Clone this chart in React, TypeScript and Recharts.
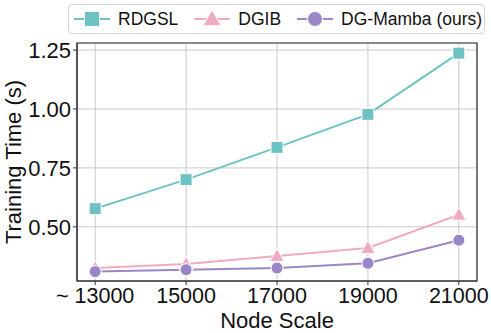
import React from "react";
import {
  LineChart,
  Line,
  XAxis,
  YAxis,
  CartesianGrid,
  ReferenceArea,
} from "recharts";

const nodeScales = [13000, 15000, 17000, 19000, 21000];
const rdgsl = [0.577, 0.7, 0.837, 0.977, 1.237];
const dgib = [0.325, 0.342, 0.376, 0.41, 0.551];
const dgMamba = [0.31, 0.318, 0.325, 0.345, 0.443];
const yTicks = [0.5, 0.75, 1.0, 1.25];

const COLORS = {
  rdgsl: "#6fc2c4",
  dgib: "#f0abc2",
  mamba: "#9b87c8",
};

const FONT = "'Liberation Sans', Arial, sans-serif";

const chartData = nodeScales.map((x, i) => ({
  x,
  rdgsl: rdgsl[i],
  dgib: dgib[i],
  mamba: dgMamba[i],
}));

const X_DOMAIN: [number, number] = [12600, 21400];
const Y_DOMAIN: [number, number] = [0.27, 1.28];

type Shape = "square" | "triangle" | "circle";

const Marker = ({ cx, cy, shape, color, size }: any) => {
  if (cx == null || cy == null) return null;
  const s = size;
  if (shape === "square") {
    return (
      <rect x={cx - s / 2} y={cy - s / 2} width={s} height={s} fill={color} stroke="#fff" strokeWidth={1} />
    );
  }
  if (shape === "triangle") {
    return (
      <polygon
        points={`${cx},${cy - s * 0.62} ${cx - s * 0.6},${cy + s * 0.45} ${cx + s * 0.6},${cy + s * 0.45}`}
        fill={color}
        stroke="#fff"
        strokeWidth={1}
      />
    );
  }
  return <circle cx={cx} cy={cy} r={s / 2} fill={color} stroke="#fff" strokeWidth={1} />;
};

const makeDot = (shape: Shape, color: string) => (props: any) => (
  <Marker key={`${shape}-${props.index}`} cx={props.cx} cy={props.cy} shape={shape} color={color} size={12} />
);

const legendItems: { name: string; shape: Shape; color: string }[] = [
  { name: "RDGSL", shape: "square", color: COLORS.rdgsl },
  { name: "DGIB", shape: "triangle", color: COLORS.dgib },
  { name: "DG-Mamba (ours)", shape: "circle", color: COLORS.mamba },
];

const LegendBox = () => (
  <div
    style={{
      position: "absolute",
      left: 68,
      top: 4,
      width: 417,
      height: 30,
      boxSizing: "border-box",
      border: "1px solid #d4d4d4",
      borderRadius: 4,
      background: "#fff",
      display: "flex",
      alignItems: "center",
      paddingLeft: 4,
      fontFamily: FONT,
      fontSize: 17.5,
      color: "#111",
      whiteSpace: "nowrap",
    }}
  >
    {legendItems.map((it) => (
      <div key={it.name} style={{ display: "flex", alignItems: "center", marginRight: 15 }}>
        <svg width={38} height={20} style={{ marginRight: 7 }}>
          <line x1={1} y1={10} x2={37} y2={10} stroke={it.color} strokeWidth={2} />
          <Marker cx={19} cy={10} shape={it.shape} color={it.color} size={15} />
        </svg>
        <span>{it.name}</span>
      </div>
    ))}
  </div>
);

const formatX = (v: number) => (v === 13000 ? "~ 13000" : String(v));

export default function App() {
  return (
    <div style={{ position: "absolute", left: 0, top: 0, width: 491, height: 333, background: "#fff" }}>
      <LineChart
        width={491}
        height={333}
        data={chartData}
        margin={{ top: 43, right: 14, bottom: 0, left: 0 }}
      >
        <CartesianGrid stroke="#c9c9c9" strokeWidth={1} />
        <XAxis
          dataKey="x"
          type="number"
          domain={X_DOMAIN}
          ticks={nodeScales}
          tickFormatter={formatX}
          allowDataOverflow
          height={52}
          stroke="#333"
          tickSize={4}
          tickMargin={3}
          tick={{ fill: "#111", fontSize: 21.5, fontFamily: FONT }}
          label={{
            value: "Node Scale",
            position: "insideBottom",
            offset: 5,
            fill: "#111",
            fontSize: 22,
            fontFamily: FONT,
          }}
        />
        <YAxis
          type="number"
          domain={Y_DOMAIN}
          ticks={yTicks}
          allowDataOverflow
          width={77}
          stroke="#333"
          tickSize={4}
          tickMargin={2}
          tickFormatter={(v: number) => v.toFixed(2)}
          tick={{ fill: "#111", fontSize: 22, fontFamily: FONT }}
          label={({ viewBox }: any) => {
            const cy = viewBox.y + viewBox.height / 2;
            return (
              <text
                x={13}
                y={cy}
                transform={`rotate(-90, 13, ${cy})`}
                textAnchor="middle"
                dominantBaseline="central"
                fill="#111"
                fontSize={22}
                fontFamily={FONT}
              >
                Training Time (s)
              </text>
            );
          }}
        />
        <ReferenceArea
          x1={X_DOMAIN[0]}
          x2={X_DOMAIN[1]}
          y1={Y_DOMAIN[0]}
          y2={Y_DOMAIN[1]}
          fill="none"
          stroke="#333"
          strokeWidth={1.2}
          ifOverflow="visible"
        />
        <Line
          dataKey="rdgsl"
          stroke={COLORS.rdgsl}
          strokeWidth={2}
          dot={makeDot("square", COLORS.rdgsl)}
          isAnimationActive={false}
        />
        <Line
          dataKey="dgib"
          stroke={COLORS.dgib}
          strokeWidth={2}
          dot={makeDot("triangle", COLORS.dgib)}
          isAnimationActive={false}
        />
        <Line
          dataKey="mamba"
          stroke={COLORS.mamba}
          strokeWidth={2}
          dot={makeDot("circle", COLORS.mamba)}
          isAnimationActive={false}
        />
      </LineChart>
      <LegendBox />
    </div>
  );
}
